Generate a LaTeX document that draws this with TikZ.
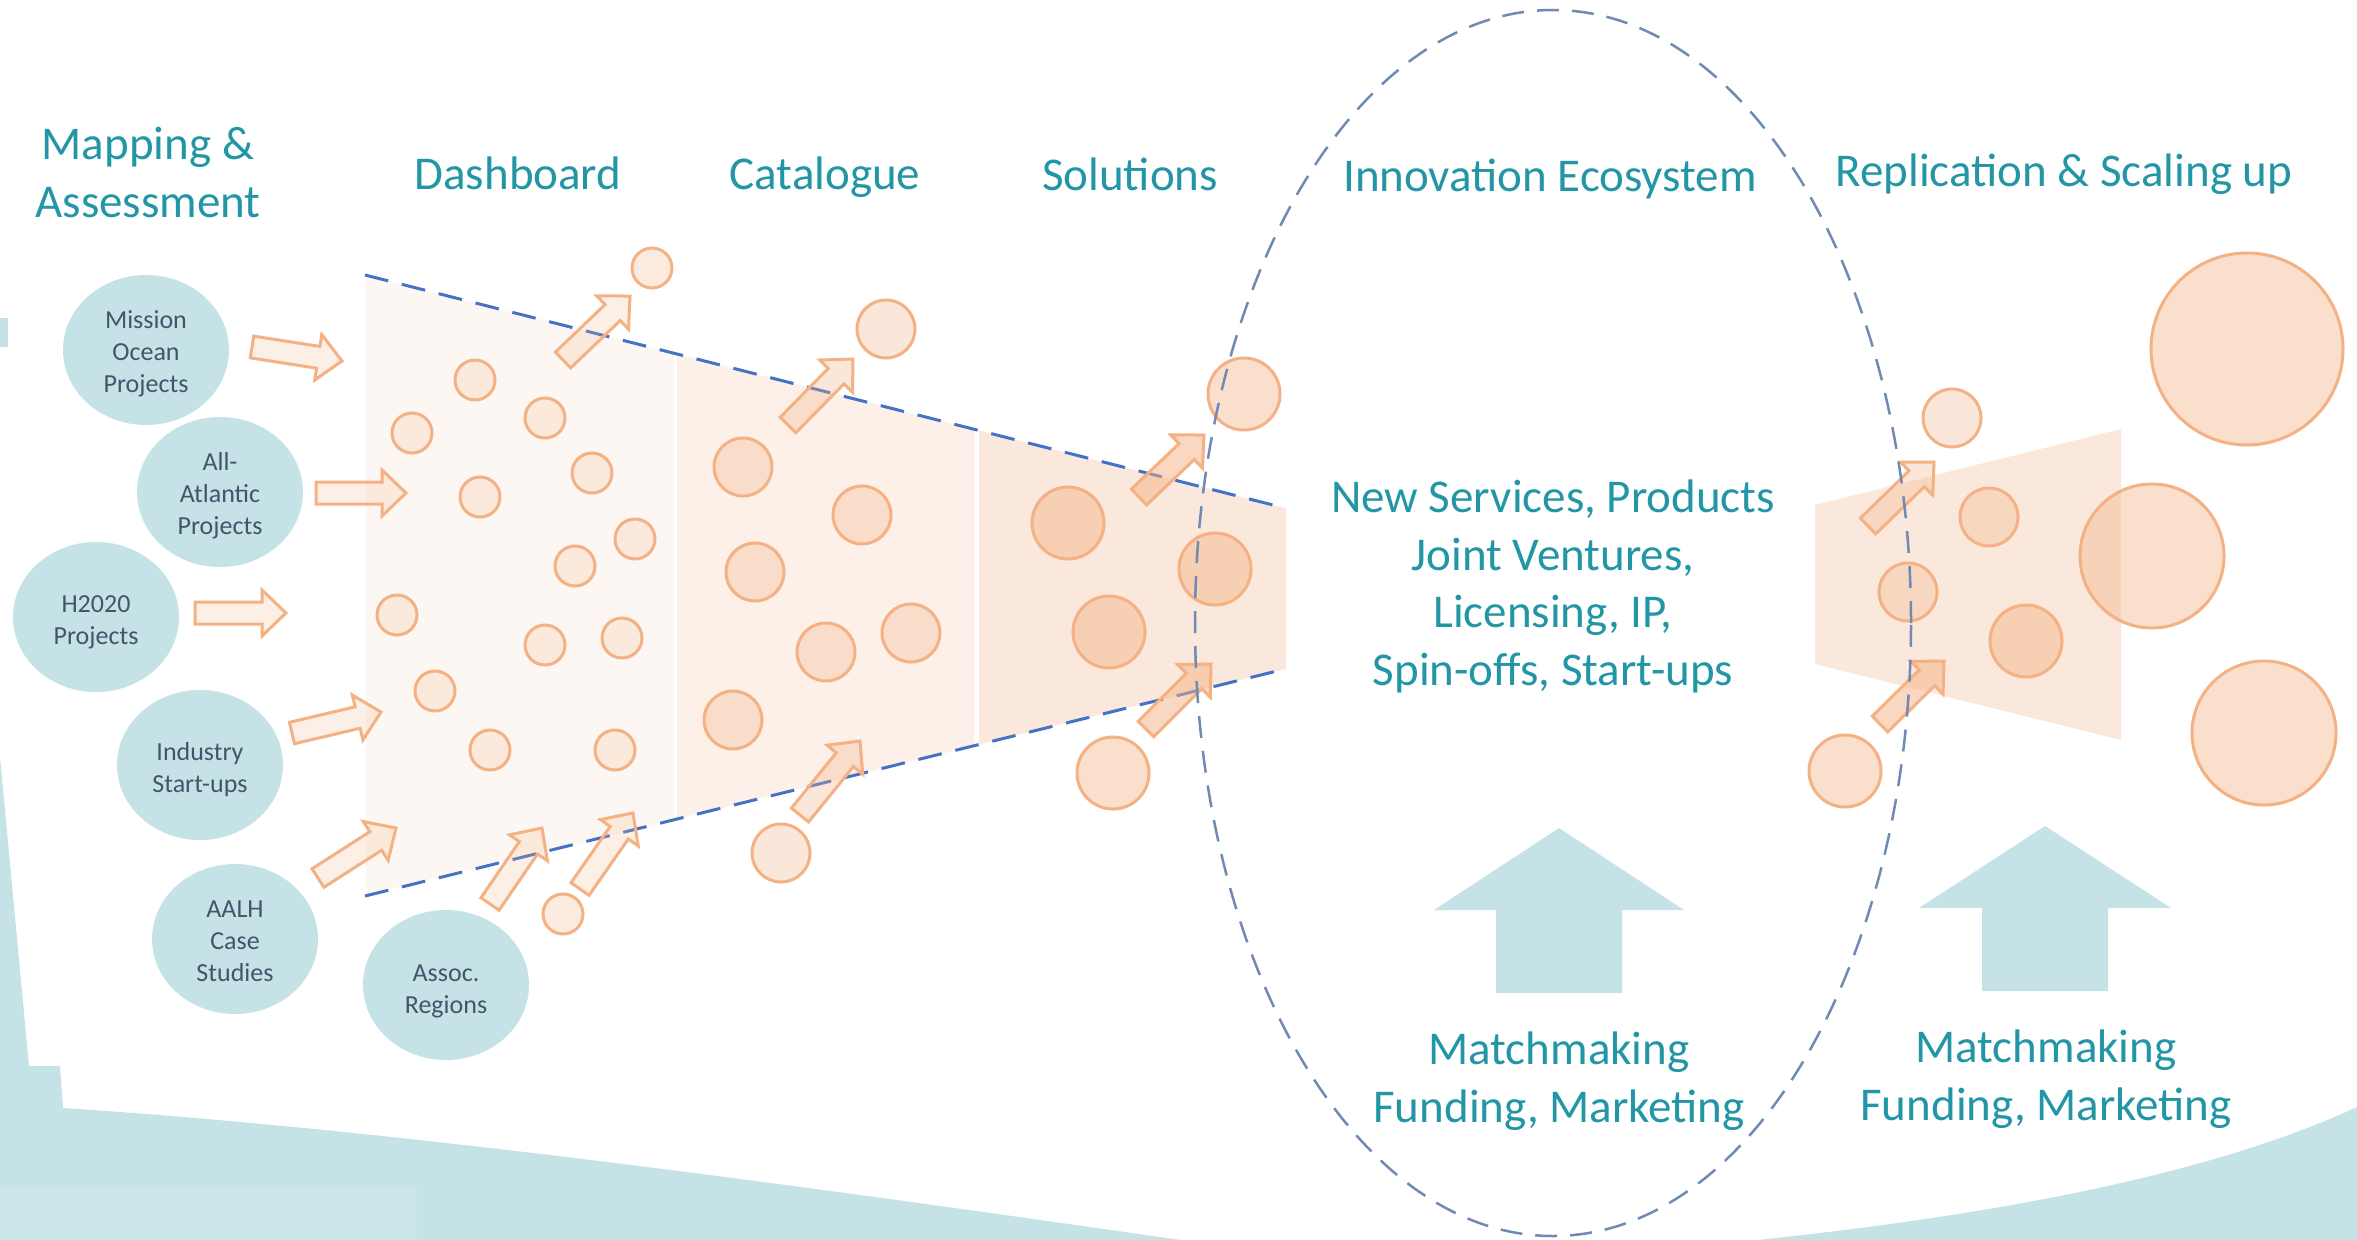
\documentclass[tikz,border=0pt]{standalone}
\usepackage{fontspec}
\setmainfont{Carlito}
\usetikzlibrary{shapes.geometric}
\definecolor{teal1}{RGB}{35,150,166}
\definecolor{slate}{RGB}{68,84,106}
\definecolor{bgblue}{RGB}{197,227,231}
\definecolor{bgblue2}{RGB}{202,230,234}
\definecolor{orng}{RGB}{244,177,131}
\definecolor{fblue}{RGB}{68,114,196}
\definecolor{eblue}{RGB}{112,138,180}
\definecolor{sec1}{RGB}{253,247,243}
\definecolor{sec2}{RGB}{252,240,232}
\definecolor{sec3}{RGB}{251,232,220}
\tikzset{
  title/.style={text=teal1, font=\fontsize{47}{57.5}\selectfont, align=center, inner sep=0pt, anchor=base},
  srcell/.style={ellipse, fill=bgblue, minimum width=166pt, minimum height=150pt, inner sep=0pt},
  srctext/.style={text=slate, font=\fontsize{26}{32}\selectfont, align=center, inner sep=0pt, anchor=base},
  blob/.style={draw=orng, line width=3pt, fill=orng},
  funline/.style={draw=fblue, line width=3pt, dash pattern=on 24pt off 14pt},
  ecoline/.style={draw=eblue, line width=2.5pt, dash pattern=on 22pt off 13pt},
  barrow/.style={draw=orng, line width=3pt, fill=orng, line join=miter},
  upblock/.style={fill=bgblue},
}
\newcommand\barr[5]{%
  \pgfmathsetmacro\barang{atan2(#2-#4,#3-#1)}%
  \pgfmathsetmacro\barlen{veclen(#3-#1,#4-#2)}%
  \pgfmathsetmacro\barneck{\barlen-24}%
  \draw[barrow, fill opacity=#5, shift={(#1,#2)}, rotate=\barang]
    (0pt,-11pt) -- (\barneck pt,-11pt) -- (\barneck pt,-23pt) -- (\barlen pt,0pt)
    -- (\barneck pt,23pt) -- (\barneck pt,11pt) -- (0pt,11pt) -- cycle;}
\newcommand\blobs[3]{%
  \foreach \bx/\by in {#3} {\draw[blob, fill opacity=#2] (\bx,\by) circle[radius=#1pt];}}
\begin{document}
\begin{tikzpicture}[x=1pt,y=-1pt]
\useasboundingbox (0,0) rectangle (2357,1239);
\fill[white] (0,0) rectangle (2357,1239);
% background
\begin{scope}
\clip (0,0) rectangle (2357,1239);
\fill[bgblue] (0,318) rectangle (8,347);
\fill[bgblue] (-5,757) -- (0,757) -- (29,1066) -- (60,1066) -- (63,1108)
  .. controls (400,1130) and (800,1185) .. (1250,1250) -- (1650,1250)
  .. controls (1950,1225) and (2200,1180) .. (2357,1107) -- (2400,1107)
  -- (2400,1300) -- (-5,1300) -- cycle;
\fill[bgblue2] (0,1187) rectangle (417,1239);
\end{scope}
% funnel
\fill[sec1] (366,275.3) -- (674,353.3) -- (674,819.8) -- (366,895.8) -- cycle;
\fill[sec2] (677,354.0) -- (974,429.3) -- (974,745.8) -- (677,819.0) -- cycle;
\fill[sec3] (979,430.5) -- (1286,508.3) -- (1286,668.8) -- (979,744.5) -- cycle;
\fill[sec3] (1815,505) -- (2121,429) -- (2121,740) -- (1815,664) -- cycle;
\draw[funline] (365,275) -- (1281,507);
\draw[funline] (365,896) -- (1281,670);
% circles
\blobs{20}{0.2}{475/380,412/433,545/418,592/473,480/497,635/539,575/566,397/615,545/645,622/638,435/691,490/750,615/750}
\blobs{20}{0.25}{652/268,563/914}
\blobs{29}{0.3}{743/467,862/515,755/572,911/633,826/652,733/720,886/329,781/853}
\blobs{36}{0.45}{1068/523,1109/632,1215/569}
\blobs{36}{0.4}{1244/394,1113/773}
\blobs{29}{0.3}{1952/418,1989/517,1908/592}
\blobs{36}{0.45}{2026/641}
\blobs{36}{0.4}{1845/771}
\blobs{96}{0.4}{2247/349}
\blobs{72}{0.4}{2152/556,2264/733}
% source ellipses
\node[srcell] (mission) at (146,350) {};
\node[srcell] (allatl) at (220,492) {};
\node[srcell] (h2020) at (96,617) {};
\node[srcell] (industry) at (200,765) {};
\node[srcell] (aalh) at (235,939) {};
\node[srcell] (assoc) at (446,985) {};
\node[srctext] (missiont) at (146,392) {Mission\\Ocean\\Projects};
\node[srctext] (allatlt) at (220,534) {All-\\Atlantic\\Projects};
\node[srctext] (h2020t) at (96,644) {H2020\\Projects};
\node[srctext] (industryt) at (200,792) {Industry\\Start-ups};
\node[srctext] (aalht) at (235,981) {AALH\\Case\\Studies};
\node[srctext] (assoct) at (446,1013) {Assoc.\\Regions};
% orange arrows
\barr{252}{347}{342}{361}{0.2}
\barr{316}{493}{406}{493}{0.2}
\barr{195}{613}{286}{613}{0.2}
\barr{292}{733}{381}{712}{0.2}
\barr{318}{878}{396}{828}{0.2}
\barr{490}{904}{542}{828}{0.2}
\barr{580}{889}{633}{813}{0.2}
\barr{563}{360}{630}{296}{0.2}
\barr{788}{425}{853}{359}{0.3}
\barr{800}{815}{860}{741}{0.3}
\barr{1139}{497}{1204}{435}{0.5}
\barr{1146}{729}{1211}{664}{0.5}
\barr{1868}{526}{1934}{462}{0.3}
\barr{1880}{724}{1944}{661}{0.5}
% ecosystem ellipse
\draw[ecoline] (1553,623) ellipse[x radius=358pt, y radius=613pt];
% blue up arrows
\fill[upblock] (1559,828) -- (1684,910) -- (1622,910) -- (1622,993) -- (1496,993) -- (1496,910) -- (1434,910) -- cycle;
\fill[upblock] (2045,826) -- (2171,908) -- (2108,908) -- (2108,991) -- (1982,991) -- (1982,908) -- (1919,908) -- cycle;
% titles
\node[title] (tmap) at (148,217) {Mapping \&\\Assessment};
\node[title] (tdash) at (518,189) {Dashboard};
\node[title] (tcat) at (825,189) {Catalogue};
\node[title] (tsol) at (1130,190) {Solutions};
\node[title] (tinno) at (1550,191) {Innovation Ecosystem};
\node[title] (trep) at (2064,186) {Replication \& Scaling up};
\node[title] (tnew) at (1553,685) {New Services, Products\\Joint Ventures,\\Licensing, IP,\\Spin-offs, Start-ups};
\node[title] (tmatch1) at (1559,1122) {Matchmaking\\Funding, Marketing};
\node[title] (tmatch2) at (2046,1120) {Matchmaking\\Funding, Marketing};
\end{tikzpicture}
\end{document}
